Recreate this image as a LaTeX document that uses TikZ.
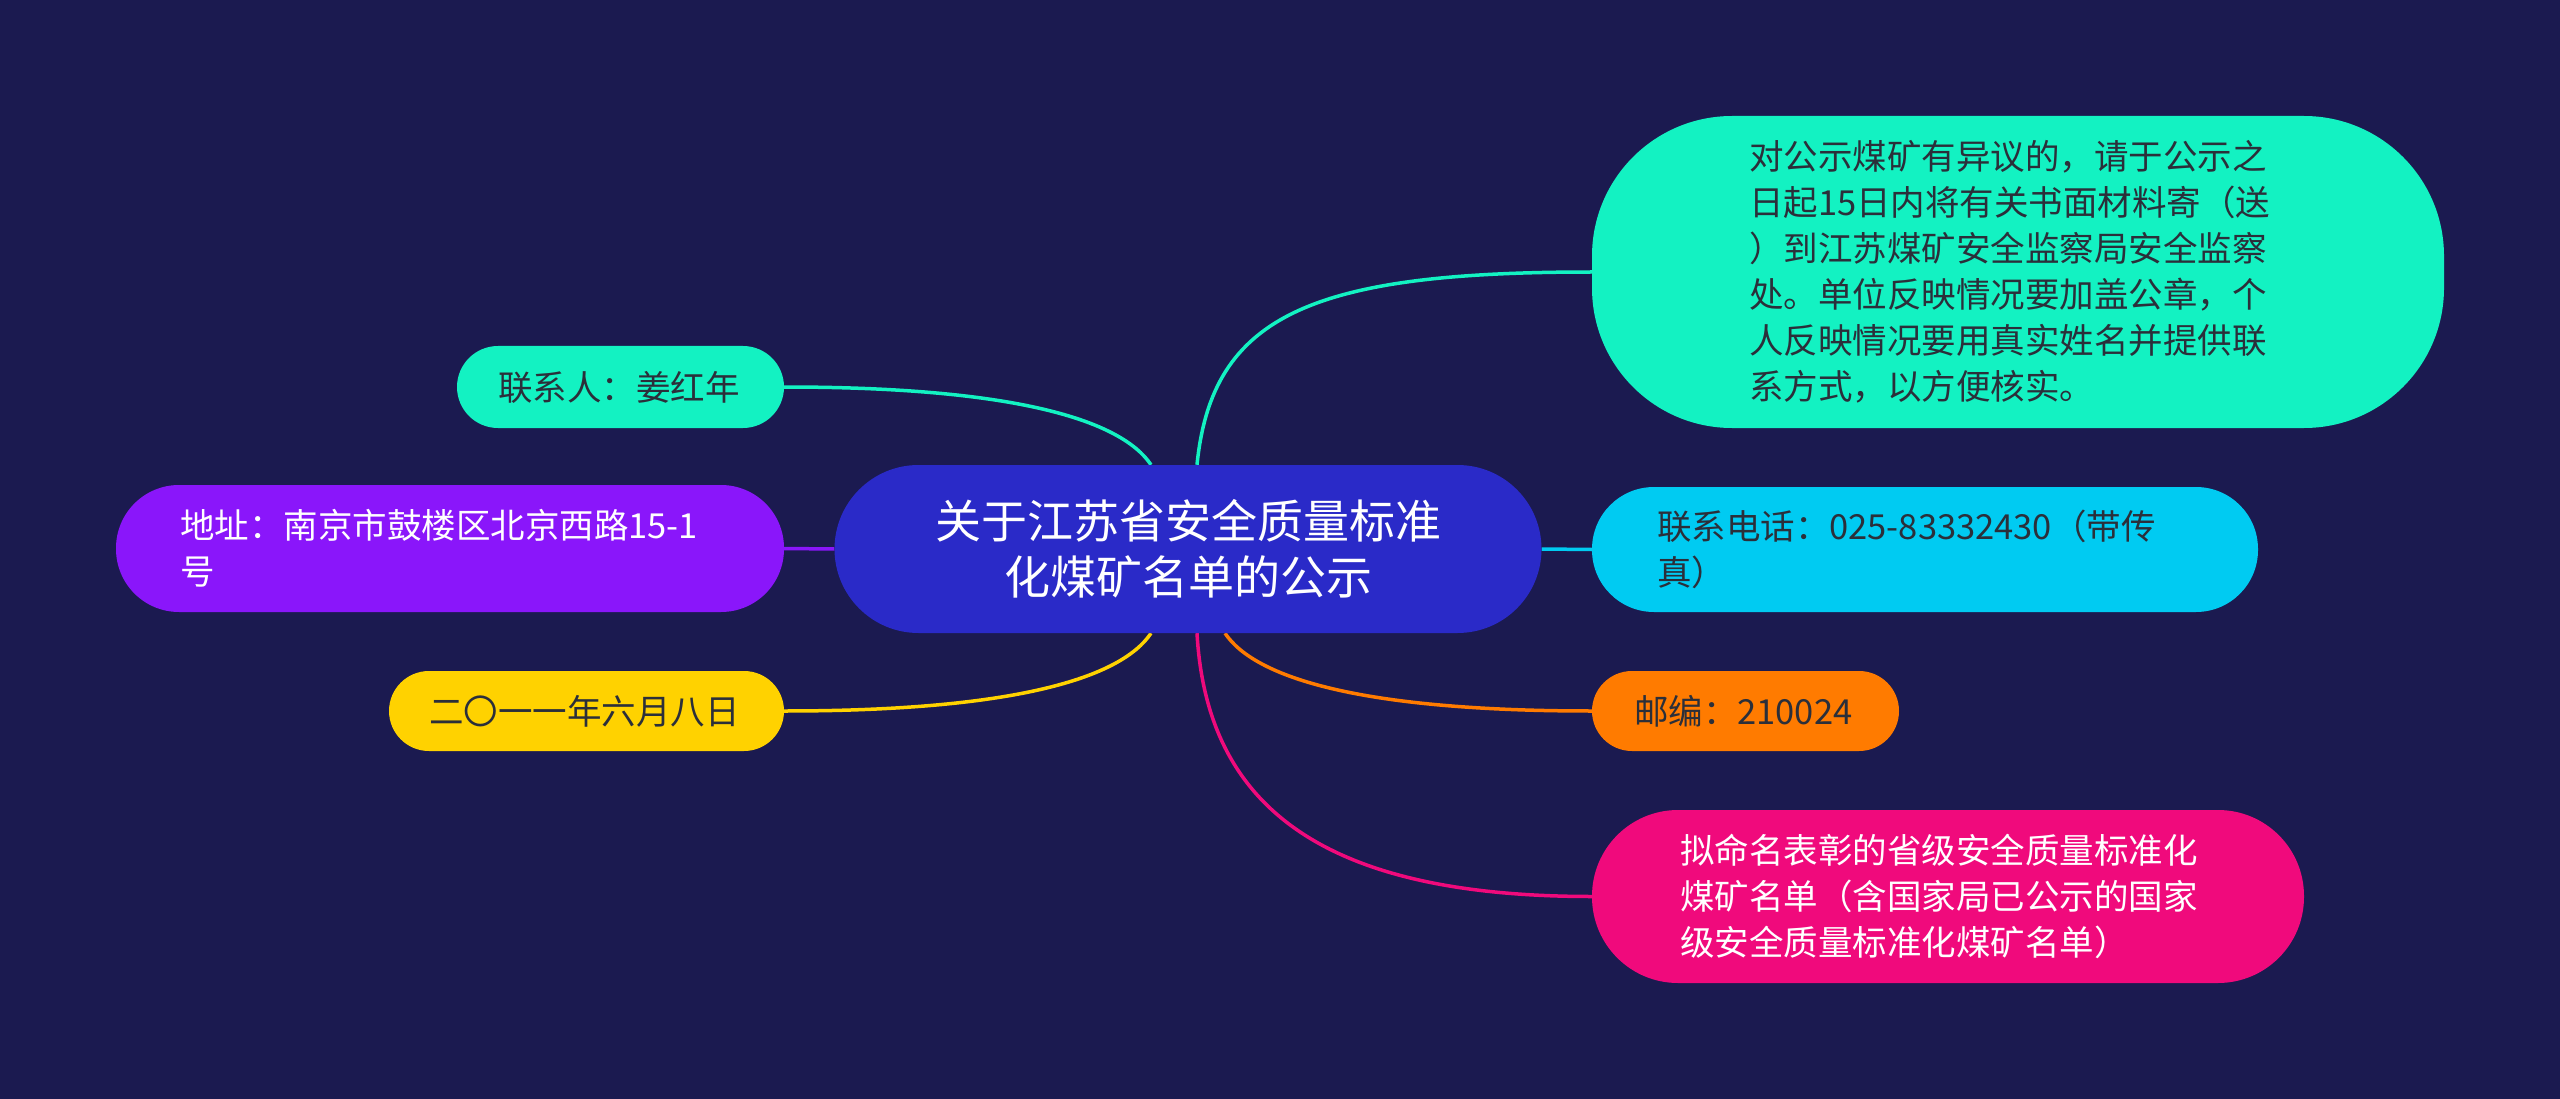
\documentclass[tikz,border=0pt]{standalone}
\usepackage{fontspec}
\setmainfont{Noto Sans CJK SC}
\usetikzlibrary{backgrounds,calc}
\definecolor{bgc}{HTML}{1B1A50}
\definecolor{ctr}{HTML}{2A2AC8}
\definecolor{mint}{HTML}{13F2C2}
\definecolor{cyn}{HTML}{00CBF2}
\definecolor{org}{HTML}{FF7B00}
\definecolor{pnk}{HTML}{F00A7C}
\definecolor{prp}{HTML}{8A16FA}
\definecolor{ylw}{HTML}{FFD200}
\definecolor{dtxt}{HTML}{2B2F3A}
\tikzset{
  box/.style={draw=none, inner sep=0pt, align=left, font=\fontsize{34.5}{46}\selectfont},
  link/.style={line width=3.5pt},
}
\begin{document}
\begin{tikzpicture}[x=1pt,y=-1pt]
\useasboundingbox (0,0) rectangle (2560,1099);
% center
\node[box, align=center, fill=ctr, text=white, minimum width=707pt, minimum height=168pt, rounded corners=84pt,
  font=\fontsize{46}{55.5}\selectfont] (c) at (1188,549) {关于江苏省安全质量标准\\化煤矿名单的公示};
% right
\node[box, fill=mint, text=dtxt, minimum width=852pt, minimum height=312pt, rounded corners=140pt, text width=538pt]
  (n1) at (2018,272) {对公示煤矿有异议的，请于公示之\\日起15日内将有关书面材料寄（送\\）到江苏煤矿安全监察局安全监察\\处。单位反映情况要加盖公章，个\\人反映情况要用真实姓名并提供联\\系方式，以方便核实。};
\node[box, fill=cyn, text=dtxt, minimum width=666pt, minimum height=125pt, rounded corners=62pt, text width=536pt]
  (n2) at (1925,549.5) {联系电话：025-83332430（带传\\真）};
\node[box, fill=org, text=dtxt, minimum width=307pt, minimum height=80pt, rounded corners=40pt, text width=223pt]
  (n3) at (1745.5,711) {邮编：210024};
\node[box, fill=pnk, text=white, minimum width=712pt, minimum height=173pt, rounded corners=86pt, text width=536pt]
  (n4) at (1948,896.5) {拟命名表彰的省级安全质量标准化\\煤矿名单（含国家局已公示的国家\\级安全质量标准化煤矿名单）};
% left
\node[box, fill=mint, text=dtxt, minimum width=327pt, minimum height=82pt, rounded corners=41pt, text width=245pt]
  (l1) at (620.5,387) {联系人：姜红年};
\node[box, fill=prp, text=white, minimum width=668pt, minimum height=127pt, rounded corners=63pt, text width=540pt]
  (l2) at (450,548.5) {地址：南京市鼓楼区北京西路15-1\\号};
\node[box, fill=ylw, text=dtxt, minimum width=395pt, minimum height=80pt, rounded corners=40pt, text width=315pt]
  (l3) at (586.5,711) {二〇一一年六月八日};
\begin{pgfonlayer}{background}
\fill[bgc] (0,0) rectangle (2560,1099);
\draw[link, mint] ([xshift=9pt]c.north) .. controls +(15,-150) and +(-280,0) .. (n1.west);
\draw[link, cyn] (c.east) -- (n2.west);
\draw[link, org] ([xshift=37pt]c.south) .. controls +(30,45) and +(-230,0) .. (n3.west);
\draw[link, pnk] ([xshift=9pt]c.south) .. controls +(10,180) and +(-260,0) .. (n4.west);
\draw[link, mint] (l1.east) .. controls +(230,0) and +(-30,-45) .. ([xshift=-37pt]c.north);
\draw[link, prp] (l2.east) -- (c.west);
\draw[link, ylw] (l3.east) .. controls +(230,0) and +(-30,45) .. ([xshift=-37pt]c.south);
\end{pgfonlayer}
\end{tikzpicture}
\end{document}
